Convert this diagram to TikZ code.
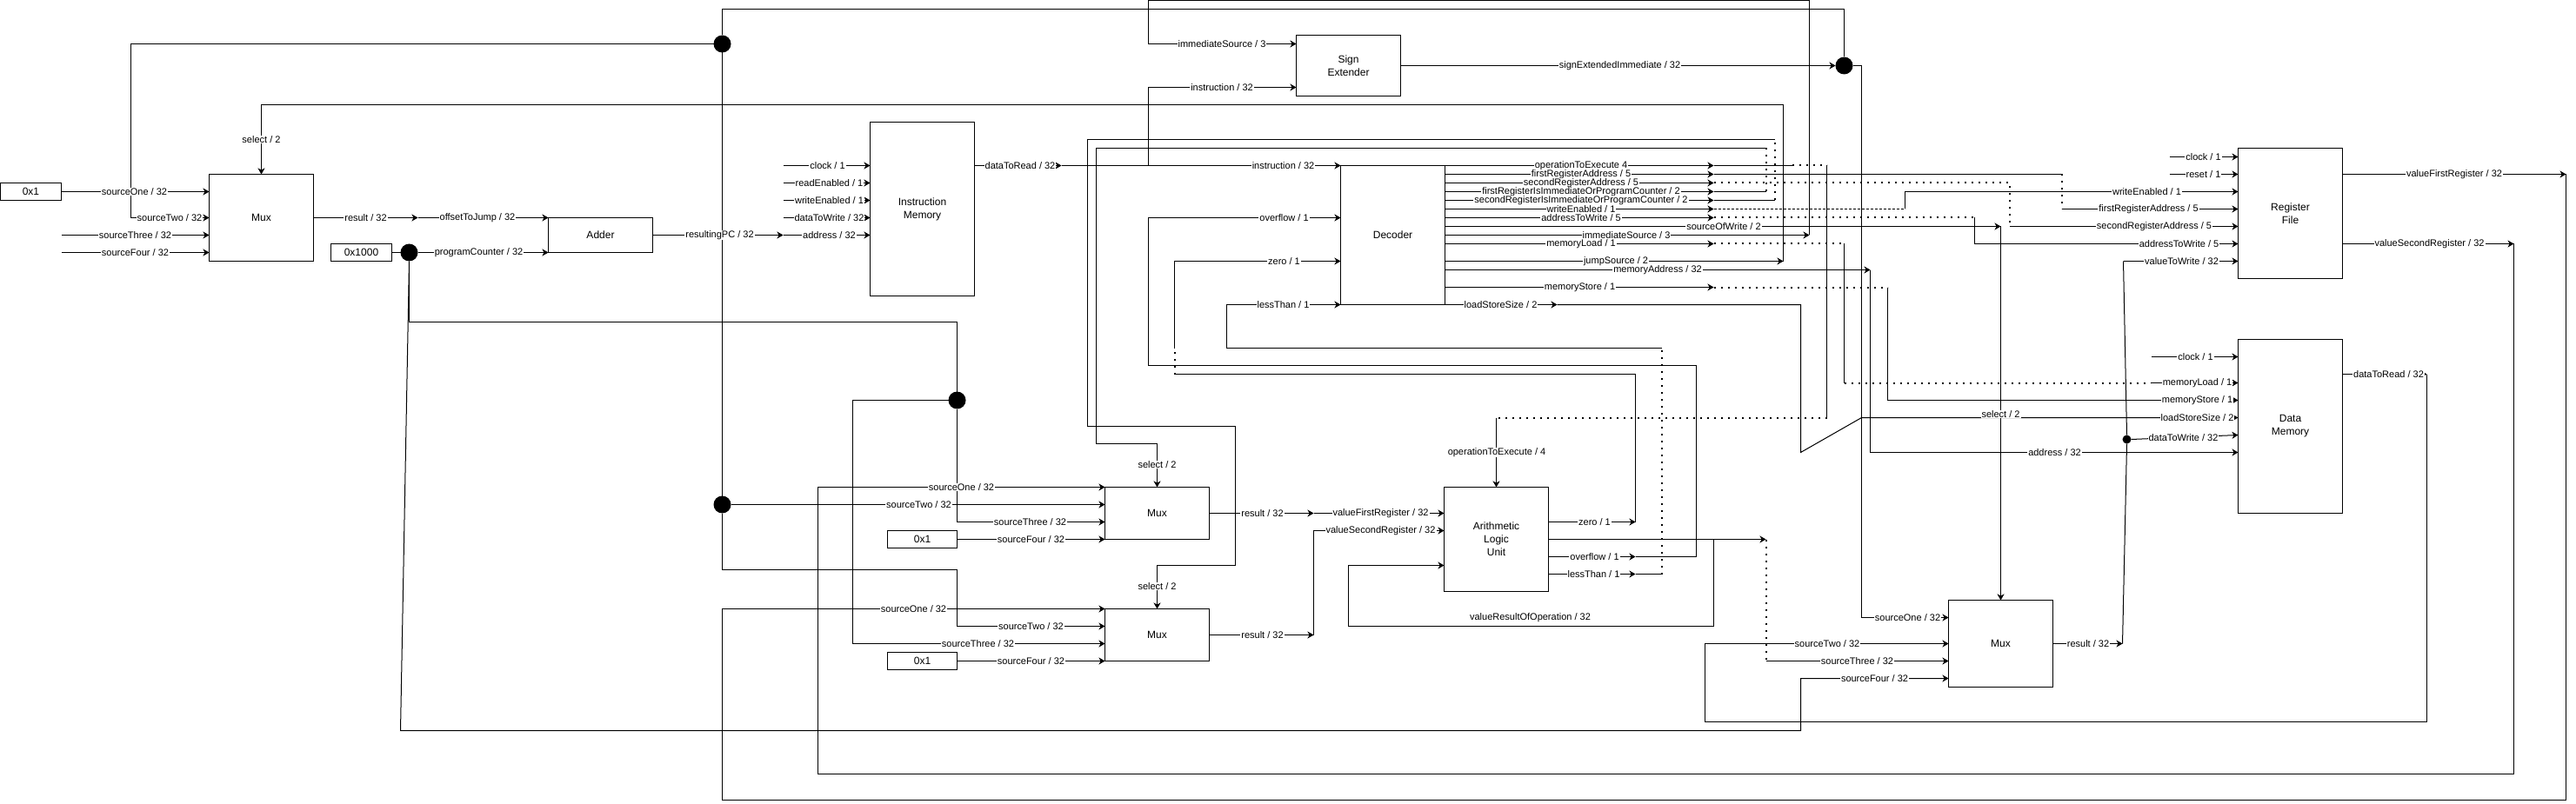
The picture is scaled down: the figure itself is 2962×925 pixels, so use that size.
\documentclass[tikz,border=0pt]{standalone}
\usepackage{fontspec}
\setmainfont{Liberation Sans}
\usetikzlibrary{arrows.meta}
\tikzset{
    wire/.style={line width=1pt},
    arr/.style={wire,-{Stealth[length=7pt,width=8pt,inset=2pt]}},
    dotline/.style={line width=2pt,dash pattern=on 2pt off 6pt},
    dashline/.style={wire,dash pattern=on 3pt off 2pt},
    block/.style={draw,line width=1pt,inner sep=0pt,outer sep=0pt,minimum width=120pt,align=center,font=\fontsize{12}{15}\selectfont},
    konst/.style={block,minimum height=20pt},
    junc/.style={circle,fill=black,inner sep=0pt,outer sep=0pt,minimum size=20pt},
    lbl/.style={fill=white,inner xsep=1pt,inner ysep=0pt,font=\fontsize{11}{12}\selectfont}
}
\begin{document}
\begin{tikzpicture}[x=1pt,y=-1pt]
    \useasboundingbox (-0.5,-0.5) rectangle (2961.5,924.5);

%blocks
    \node[block,minimum height=100pt] (MuxP) at (300,250) {Mux};
    \node[block,minimum height=40pt] (Adder) at (690,270) {Adder};
    \node[block,minimum height=200pt] (InstrMem) at (1060,240) {Instruction\\Memory};
    \node[block,minimum height=70pt] (SignExt) at (1550,75) {Sign\\Extender};
    \node[block,minimum height=160pt] (Decoder) at (1601,270) {Decoder};
    \node[block,minimum height=60pt] (MuxA) at (1330,590) {Mux};
    \node[block,minimum height=60pt] (MuxB) at (1330,730) {Mux};
    \node[block,minimum height=120pt] (ALU) at (1720,620) {Arithmetic\\Logic\\Unit};
    \node[block,minimum height=100pt] (MuxW) at (2300,740) {Mux};
    \node[block,minimum height=150pt] (RegFile) at (2633,245) {Register\\File};
    \node[block,minimum height=200pt] (DataMem) at (2633,490) {Data\\Memory};

    \node[konst,minimum width=70pt] (K1) at (35,220) {0x1};
    \node[konst,minimum width=70pt] (K2) at (415,290) {0x1000};
    \node[konst,minimum width=80pt] (K3) at (1060,620) {0x1};
    \node[konst,minimum width=80pt] (K4) at (1060,760) {0x1};

    \node[junc] (J1) at (830,50) {};
    \node[junc] (J2) at (470,290) {};
    \node[junc] (J3) at (1100,460) {};
    \node[junc] (J4) at (830,580) {};
    \node[junc] (J5) at (2120,75) {};
    \node[junc,minimum size=10pt] (J6) at (2445,505) {};

%points
    \coordinate (A1) at (150,250);
    \coordinate (A2) at (70,270);
    \coordinate (A3) at (70,290);
    \coordinate (B1) at (2050,300);
    \coordinate (B2) at (300,120);
    \coordinate (C1) at (480,250);
    \coordinate (C2) at (900,270);
    \coordinate (C3) at (900,190);
    \coordinate (C4) at (900,210);
    \coordinate (C5) at (900,230);
    \coordinate (C6) at (900,250);
    \coordinate (E1) at (1100,370);
    \coordinate (E2) at (1100,600);
    \coordinate (E3) at (980,740);
    \coordinate (E4) at (460,840);
    \coordinate (E5) at (2070,780);
    \coordinate (F2) at (2120,10);
    \coordinate (F3) at (1100,655);
    \coordinate (F4) at (1100,720);
    \coordinate (G1) at (2950,200);
    \coordinate (G2) at (830,920);
    \coordinate (G3) at (830,700);
    \coordinate (G4) at (2890,280);
    \coordinate (G5) at (940,890);
    \coordinate (G6) at (940,560);
    \coordinate (H1) at (2790,430);
    \coordinate (H2) at (1960,830);
    \coordinate (H3) at (1960,740);
    \coordinate (I1) at (1320,0);
    \coordinate (I3) at (2080,270);
    \coordinate (I4) at (1320,50);
    \coordinate (I5) at (1320,190);
    \coordinate (I6) at (1320,100);
    \coordinate (L1) at (2140,75);
    \coordinate (L2) at (2140,710);
    \coordinate (L3) at (2140,480);
    \coordinate (M1) at (1790,350);
    \coordinate (M2) at (2070,520);
    \coordinate (N1) at (1220,190);
    \coordinate (O1) at (1320,250);
    \coordinate (O2) at (1320,420);
    \coordinate (O3) at (1880,640);
    \coordinate (O4) at (1950,640);
    \coordinate (O5) at (1950,420);
    \coordinate (Q1) at (1880,600);
    \coordinate (Q2) at (1880,430);
    \coordinate (Q3) at (1350,430);
    \coordinate (Q4) at (1350,400);
    \coordinate (Q5) at (1350,300);
    \coordinate (R1) at (1880,660);
    \coordinate (R2) at (1910,660);
    \coordinate (R3) at (1910,400);
    \coordinate (R4) at (1410,400);
    \coordinate (R5) at (1410,350);

    \coordinate (T1) at (1970,190);
    \coordinate (T2) at (1970,200);
    \coordinate (T3) at (1970,210);
    \coordinate (T4) at (1970,220);
    \coordinate (T5) at (1970,230);
    \coordinate (T6) at (1970,240);
    \coordinate (T7) at (1970,250);
    \coordinate (T8) at (2300,260);
    \coordinate (T10) at (1970,280);
    \coordinate (T11) at (2150,310);
    \coordinate (T12) at (1970,330);

    \coordinate (U1) at (2060,190);
    \coordinate (U2) at (2100,190);
    \coordinate (U3) at (2100,480);
    \coordinate (U4) at (1720,480);
    \coordinate (V1) at (2370,200);
    \coordinate (V2) at (2370,240);
    \coordinate (V3) at (2310,210);
    \coordinate (V4) at (2310,260);
    \coordinate (W1) at (2030,220);
    \coordinate (W2) at (2030,170);
    \coordinate (W3) at (1260,170);
    \coordinate (W4) at (1260,510);
    \coordinate (W6) at (2040,230);
    \coordinate (W7) at (2040,160);
    \coordinate (W8) at (1250,160);
    \coordinate (W9) at (1250,490);
    \coordinate (W10) at (1420,490);
    \coordinate (W11) at (1420,650);
    \coordinate (X1) at (2190,240);
    \coordinate (X2) at (2190,220);
    \coordinate (X3) at (2270,250);
    \coordinate (X4) at (2270,280);
    \coordinate (Y1) at (2120,280);
    \coordinate (Y2) at (2120,440);
    \coordinate (Y3) at (2472,440);
    \coordinate (Y4) at (2150,520);
    \coordinate (Y5) at (2170,330);
    \coordinate (Y6) at (2170,460);
    \coordinate (Z1) at (2494,180);
    \coordinate (Z2) at (2494,200);
    \coordinate (Z3) at (2473,410);

    \coordinate (S1) at (2440,740);
    \coordinate (S2) at (2441,300);
    \coordinate (S3) at (2573,500);
    \coordinate (S4) at (1510,590);
    \coordinate (S5) at (1510,730);
    \coordinate (S6) at (1510,610);
    \coordinate (S7) at (2030,620);
    \coordinate (S8) at (1970,620);
    \coordinate (S9) at (1970,720);
    \coordinate (S10) at (1550,720);
    \coordinate (S11) at (1550,650);
    \coordinate (S12) at (2030,760);

%program counter
    \draw[arr] (K1.east) -- (K1.east -| MuxP.west);
    \draw[arr] (J1.west) -| (A1) -- (A1 -| MuxP.west);
    \draw[arr] (A2) -- (A2 -| MuxP.west);
    \draw[arr] (A3) -- (A3 -| MuxP.west);
    \draw[arr] (B1) |- (B2) -- (MuxP.north);
    \draw[arr] (MuxP.east) -- (C1);
    \draw[arr] (C1) -- (C1 -| Adder.west);
    \draw[wire] (K2.east) -- (J2.west);
    \draw[arr] (J2.east) -- (J2.east -| Adder.west);
    \draw[arr] (Adder.east) -- (C2);
    \draw[arr] (C2) -- (C2 -| InstrMem.west);
    \draw[arr] (C3) -- (C3 -| InstrMem.west);
    \draw[arr] (C4) -- (C4 -| InstrMem.west);
    \draw[arr] (C5) -- (C5 -| InstrMem.west);
    \draw[arr] (C6) -- (C6 -| InstrMem.west);

%long runs
    \draw[wire] (J2.south) |- (E1) -- (J3.north);
    \draw[arr] (J3.south) -- (E2) -- (E2 -| MuxA.west);
    \draw[arr] (J3.west) -| (E3) -- (E3 -| MuxB.west);
    \draw[arr] (J2.south) -- (E4) -| (E5) -- (E5 -| MuxW.west);
    \draw[wire] (J1.north) |- (F2) -- (J5.north);
    \draw[wire] (J1.south) -- (J4.north);
    \draw[arr] (J4.south) |- (F3) -- (F4) -- (F4 -| MuxB.west);
    \draw[arr] (J4.east) -- (J4.east -| MuxA.west);
    \draw[arr] (G1 -| RegFile.east) -- (G1);
    \draw[arr] (G1) |- (G2) -- (G3) -- (G3 -| MuxB.west);
    \draw[arr] (G4 -| RegFile.east) -- (G4);
    \draw[arr] (G4) |- (G5) -- (G6) -- (G6 -| MuxA.west);
    \draw[arr] (H1 -| DataMem.east) -- (H1);
    \draw[arr] (H1) |- (H2) -- (H3) -- (H3 -| MuxW.west);

%sign extender
    \draw[arr] (I3 -| Decoder.east) -- (I3);
    \draw[arr] (I3) |- (I1) -- (I4) -- (I4 -| SignExt.west);
    \draw[arr] (I5) -- (I6) -- (I6 -| SignExt.west);
    \draw[arr] (SignExt.east) -- (J5.west);
    \draw[arr] (J5.east) -- (L1) -- (L2) -- (L2 -| MuxW.west);

%decoder inputs
    \draw[arr] (N1 -| InstrMem.east) -- (N1);
    \draw[arr] (N1) -- (N1 -| Decoder.west);
    \draw[arr] (O3 -| ALU.east) -- (O3);
    \draw[arr] (O3) -- (O4) -- (O5) -- (O2) -- (O1) -- (O1 -| Decoder.west);
    \draw[arr] (Q1 -| ALU.east) -- (Q1);
    \draw[wire] (Q1) -- (Q2) -- (Q3);
    \draw[dotline] (Q3) -- (Q4);
    \draw[arr] (Q4) -- (Q5) -- (Q5 -| Decoder.west);
    \draw[arr] (R1 -| ALU.east) -- (R1);
    \draw[wire] (R1) -- (R2);
    \draw[dotline] (R2) -- (R3);
    \draw[arr] (R3) -- (R4) -- (R5) -- (R5 -| Decoder.west);

%decoder outputs
    \draw[arr] (T1 -| Decoder.east) -- (T1);
    \draw[arr] (T2 -| Decoder.east) -- (T2);
    \draw[arr] (T3 -| Decoder.east) -- (T3);
    \draw[arr] (T4 -| Decoder.east) -- (T4);
    \draw[arr] (T5 -| Decoder.east) -- (T5);
    \draw[arr] (T6 -| Decoder.east) -- (T6);
    \draw[arr] (T7 -| Decoder.east) -- (T7);
    \draw[arr] (T8 -| Decoder.east) -- (T8);
    \draw[arr] (T10 -| Decoder.east) -- (T10);
    \draw[arr] (B1 -| Decoder.east) -- (B1);
    \draw[arr] (T11 -| Decoder.east) -- (T11);
    \draw[arr] (T12 -| Decoder.east) -- (T12);
    \draw[arr] (M1 -| Decoder.east) -- (M1);
    \draw[arr] (M1) -| (M2) -- (L3) -- (L3 -| DataMem.west);

    \draw[wire] (T1) -- (U1);
    \draw[dotline] (U1) -- (U2);
    \draw[wire] (U2) -- (U3);
    \draw[dotline] (U3) -- (U4);
    \draw[arr] (U4) -- (ALU.north);
    \draw[wire] (T2) -- (V1);
    \draw[dotline] (V1) -- (V2);
    \draw[arr] (V2) -- (V2 -| RegFile.west);
    \draw[dotline] (T3) -- (V3) -- (V4);
    \draw[arr] (V4) -- (V4 -| RegFile.west);
    \draw[wire] (T4) -- (W1);
    \draw[dotline] (W1) -- (W2);
    \draw[arr] (W2) -- (W3) -- (W4) -| (MuxA.north);
    \draw[wire] (T5) -- (W6);
    \draw[dotline] (W6) -- (W7);
    \draw[arr] (W7) -- (W8) -- (W9) -- (W10) -- (W11) -| (MuxB.north);
    \draw[dashline] (T6) -- (X1);
    \draw[arr] (X1) -- (X2) -- (X2 -| RegFile.west);
    \draw[dotline] (T7) -- (X3);
    \draw[arr] (X3) -- (X4) -- (X4 -| RegFile.west);
    \draw[arr] (T8) -- (MuxW.north);
    \draw[dotline] (T10) -- (Y1);
    \draw[wire] (Y1) -- (Y2);
    \draw[dotline] (Y2) -- (Y3);
    \draw[arr] (Y3) -- (Y3 -| DataMem.west);
    \draw[arr] (T11) -- (Y4) -- (Y4 -| DataMem.west);
    \draw[dotline] (T12) -- (Y5);
    \draw[arr] (Y5) -- (Y6) -- (Y6 -| DataMem.west);
    \draw[arr] (Z1) -- (Z1 -| RegFile.west);
    \draw[arr] (Z2) -- (Z2 -| RegFile.west);
    \draw[arr] (Z3) -- (Z3 -| DataMem.west);

%mux and alu
    \draw[arr] (MuxW.east) -- (S1);
    \draw[wire] (S1) -- (J6.south);
    \draw[wire] (J6.north) -- (S2);
    \draw[arr] (S2) -- (S2 -| RegFile.west);
    \draw[arr] (J6.east) -- (S3);
    \draw[arr] (MuxA.east) -- (S4);
    \draw[arr] (S4) -- (S4 -| ALU.west);
    \draw[arr] (MuxB.east) -- (S5);
    \draw[arr] (S5) -- (S6) -- (S6 -| ALU.west);
    \draw[arr] (S7 -| ALU.east) -- (S7);
    \draw[arr] (S8) -- (S9) -- (S10) -- (S11) -- (S11 -| ALU.west);
    \draw[dotline] (S7) -- (S12);
    \draw[arr] (S12) -- (S12 -| MuxW.west);
    \draw[arr] (K3.east) -- (K3.east -| MuxA.west);
    \draw[arr] (K4.east) -- (K4.east -| MuxB.west);

%labels
    \node (a1) at (154,220) [lbl] {sourceOne / 32};
    \node (a2) at (194.5,250) [lbl] {sourceTwo / 32};
    \node (a3) at (155,270) [lbl] {sourceThree / 32};
    \node (a4) at (155,290) [lbl] {sourceFour / 32};
    \node (a5) at (300,160) [lbl] {select / 2};
    \node (a6) at (420,250) [lbl] {result / 32};
    \node (a7) at (548.5,250) [lbl] {offsetToJump / 32};
    \node (a8) at (550,290) [lbl] {programCounter / 32};
    \node (a9) at (827,270) [lbl] {resultingPC / 32};
    \node (b1) at (951,190) [lbl] {clock / 1};
    \node (b2) at (953,210) [lbl] {readEnabled / 1};
    \node (b3) at (953,230) [lbl] {writeEnabled / 1};
    \node (b4) at (953,250) [lbl] {dataToWrite / 32};
    \node (b5) at (953,270) [lbl] {address / 32};
    \node (b6) at (1404.5,50) [lbl] {immediateSource / 3};
    \node (b7) at (1404.5,100) [lbl] {instruction / 32};
    \node (b8) at (1172.5,190) [lbl] {dataToRead / 32};
    \node (b9) at (1475,190) [lbl] {instruction / 32};
    \node (c1) at (1476,250) [lbl] {overflow / 1};
    \node (c2) at (1476,300) [lbl] {zero / 1};
    \node (c3) at (1475,350) [lbl] {lessThan / 1};
    \node (c4) at (1862,75) [lbl] {signExtendedImmediate / 32};

    \node (d1) at (1817.5,190) [lbl] {operationToExecute 4};
    \node (d2) at (1817.5,200) [lbl] {firstRegisterAddress / 5};
    \node (d3) at (1817.5,210) [lbl] {secondRegisterAddress / 5};
    \node (d4) at (1817.5,220) [lbl] {firstRegisterIsImmediateOrProgramCounter / 2};
    \node (d5) at (1817.5,230) [lbl] {secondRegisterIsImmediateOrProgramCounter / 2};
    \node (d6) at (1817.5,240) [lbl] {writeEnabled / 1};
    \node (d7) at (1817.5,250) [lbl] {addressToWrite / 5};
    \node (d8) at (1981.5,260) [lbl] {sourceOfWrite / 2};
    \node (d9) at (1869.5,270) [lbl] {immediateSource / 3};
    \node (e1) at (1817.5,280) [lbl] {memoryLoad / 1};
    \node (e2) at (1857.5,300) [lbl] {jumpSource / 2};
    \node (e3) at (1905.5,310) [lbl] {memoryAddress / 32};
    \node (e4) at (1816,330) [lbl] {memoryStore / 1};
    \node (e5) at (1725,350) [lbl] {loadStoreSize / 2};

    \node (f1) at (2533,180) [lbl] {clock / 1};
    \node (f2) at (2533,200) [lbl] {reset / 1};
    \node (f3) at (2468,220) [lbl] {writeEnabled / 1};
    \node (f4) at (2470,240) [lbl] {firstRegisterAddress / 5};
    \node (f5) at (2476.5,260) [lbl] {secondRegisterAddress / 5};
    \node (f6) at (2505,280) [lbl] {addressToWrite / 5};
    \node (f7) at (2508,300) [lbl] {valueToWrite / 32};
    \node (f8) at (2821.5,200) [lbl] {valueFirstRegister / 32};
    \node (f9) at (2793,280) [lbl] {valueSecondRegister / 32};
    \node (g1) at (2524,410) [lbl] {clock / 1};
    \node (g2) at (2526,440) [lbl] {memoryLoad / 1};
    \node (g3) at (2526,460) [lbl] {memoryStore / 1};
    \node (g4) at (2300,476) [lbl] {select / 2};
    \node (g5) at (2526,480) [lbl] {loadStoreSize / 2};
    \node (g6) at (2510,503) [lbl] {dataToWrite / 32};
    \node (g7) at (2362,520) [lbl] {address / 32};
    \node (g8) at (2746,430) [lbl] {dataToRead / 32};

    \node (h1) at (2193,710) [lbl] {sourceOne / 32};
    \node (h2) at (2100.5,740) [lbl] {sourceTwo / 32};
    \node (h3) at (2135,760) [lbl] {sourceThree / 32};
    \node (h4) at (2155,780) [lbl] {sourceFour / 32};
    \node (h5) at (2400.5,740) [lbl] {result / 32};

    \node (i1) at (1105,560) [lbl] {sourceOne / 32};
    \node (i2) at (1056,580) [lbl] {sourceTwo / 32};
    \node (i3) at (1184,600) [lbl] {sourceThree / 32};
    \node (i4) at (1185,620) [lbl] {sourceFour / 32};
    \node (i5) at (1451,590) [lbl] {result / 32};
    \node (i6) at (1330,534) [lbl] {select / 2};
    \node (i7) at (1330,674) [lbl] {select / 2};
    \node (i8) at (1050,700) [lbl] {sourceOne / 32};
    \node (i9) at (1185,720) [lbl] {sourceTwo / 32};
    \node (j1) at (1124,740) [lbl] {sourceThree / 32};
    \node (j2) at (1185,760) [lbl] {sourceFour / 32};
    \node (j3) at (1451,730) [lbl] {result / 32};
    \node (j4) at (1587,590) [lbl] {valueFirstRegister / 32};
    \node (j5) at (1587,610) [lbl] {valueSecondRegister / 32};
    \node (j6) at (1833,600) [lbl] {zero / 1};
    \node (j7) at (1833,640) [lbl] {overflow / 1};
    \node (j8) at (1832,660) [lbl] {lessThan / 1};
    \node (j9) at (1720.5,520) [lbl] {operationToExecute / 4};
    \node (k1) at (1759,710) [lbl] {valueResultOfOperation / 32};

\end{tikzpicture}
\end{document}
